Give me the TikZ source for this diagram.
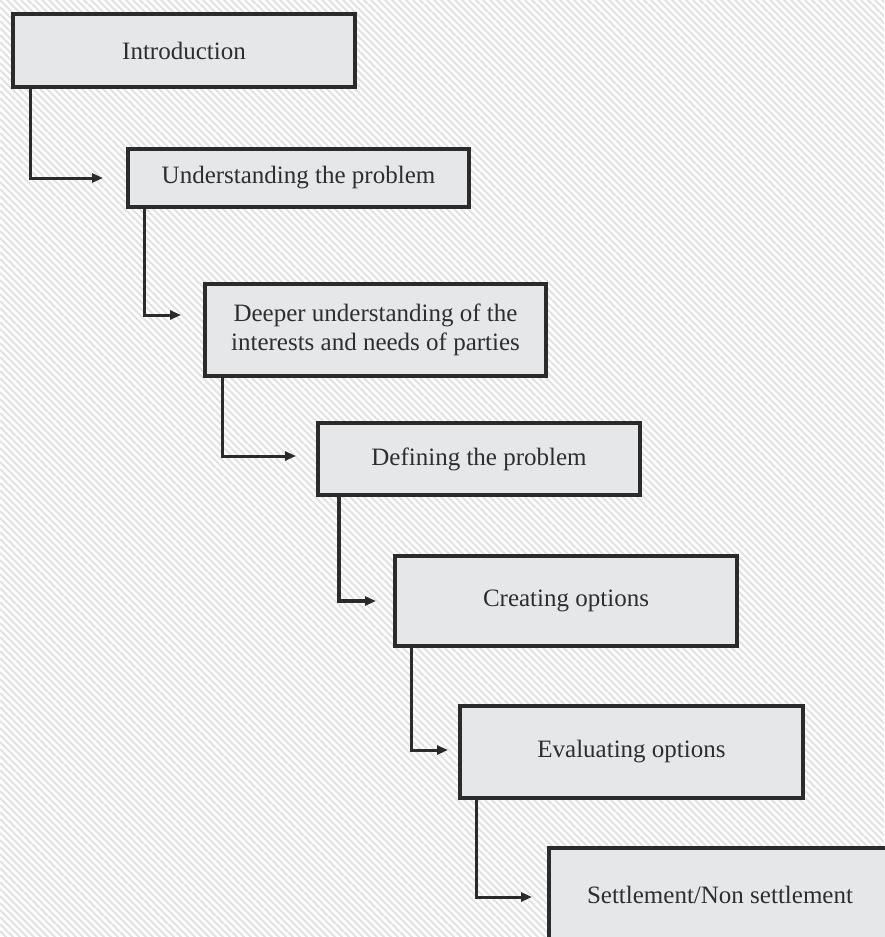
\documentclass[tikz,border=0pt]{standalone}
\usepackage{fontspec}
\setmainfont{Liberation Serif}
\usetikzlibrary{arrows.meta}
\definecolor{boxfill}{HTML}{E6E7E9}
\definecolor{boxline}{HTML}{2B2B2B}
\definecolor{txt}{HTML}{2E2E2E}
\definecolor{hatch}{HTML}{E2E2E2}
\begin{document}
\begin{tikzpicture}[x=1pt,y=-1pt,
  stepbox/.style={draw=boxline, line width=4pt, fill=boxfill, inner sep=0pt,
    font=\fontsize{25}{29}\selectfont, text=txt, align=center},
  conn/.style={draw=boxline, line width=3pt, -{Triangle[length=11pt,width=9pt]}}]
\useasboundingbox (0,0) rectangle (884,937);
\fill[white] (0,0) rectangle (884,937);
\begin{scope}
\clip (0,0) rectangle (884,937);
\foreach \c in {-1001,-994,...,940} \draw[hatch, line width=2pt] (0,\c) -- (1000,\c+1000);
\end{scope}
\node[stepbox, minimum width=342pt, minimum height=73pt] (intro) at (184,50.5) {Introduction};
\node[stepbox, minimum width=341pt, minimum height=58pt] (und) at (298.5,178) {Understanding the problem};
\node[stepbox, minimum width=341pt, minimum height=92pt] (deep) at (375.5,330) {Deeper understanding of the\\interests and needs of parties};
\node[stepbox, minimum width=322pt, minimum height=72pt] (def) at (479,459) {Defining the problem};
\node[stepbox, minimum width=342pt, minimum height=90pt] (crea) at (566,601) {Creating options};
\node[stepbox, minimum width=343pt, minimum height=92pt] (eval) at (631.5,752) {Evaluating options};
\node[stepbox, minimum width=342pt, minimum height=94pt] (sett) at (720,895) {Settlement/Non settlement};
\draw[conn] ([xshift=19pt]intro.south west) |- ([xshift=-23pt]und.west);
\draw[conn] ([xshift=18pt]und.south west) |- ([xshift=-22pt,yshift=15pt]deep.west);
\draw[conn] ([xshift=19pt]deep.south west) |- ([xshift=-20pt,yshift=3pt]def.west);
\draw[conn, line width=3.6pt] ([xshift=23pt]def.south west) |- ([xshift=-17pt]crea.west);
\draw[conn] ([xshift=18pt]crea.south west) |- ([xshift=-10pt,yshift=2pt]eval.west);
\draw[conn] ([xshift=18pt]eval.south west) |- ([xshift=-15pt,yshift=-2pt]sett.west);
\end{tikzpicture}
\end{document}
